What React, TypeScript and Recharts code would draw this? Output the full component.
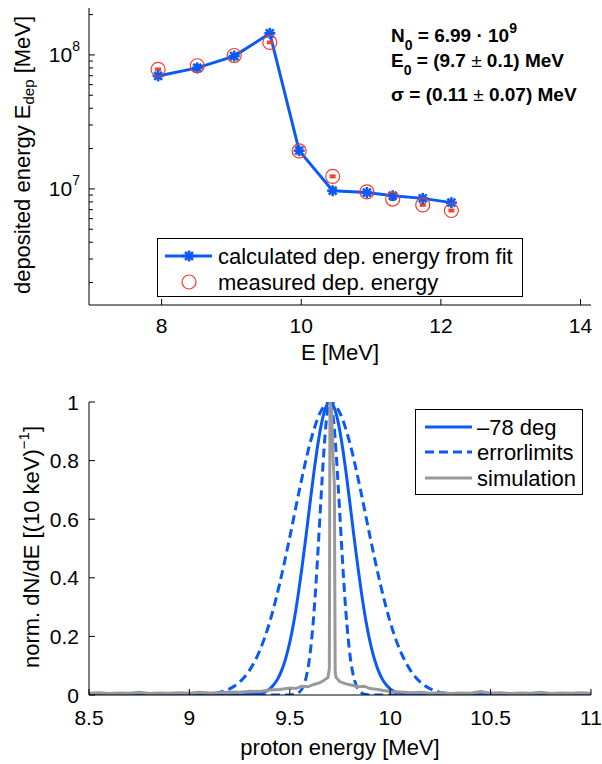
import React from "react";
import { ComposedChart, Line, XAxis, YAxis, ErrorBar, Legend } from "recharts";

const FONT = '"Liberation Sans", Arial, Helvetica, sans-serif';
const BLUE = "#0a5af8";
const RED = "#f03c2a";
const GREY = "#999999";

// top panel: deposited energy per detector layer (log y)
const layerE = [7.95, 8.51, 9.04, 9.55, 9.97, 10.45, 10.94, 11.31, 11.74, 12.15];
const fitDep = [6.97e7, 8.0e7, 9.8e7, 1.45e8, 1.93e7, 9.7e6, 9.4e6, 8.9e6, 8.5e6, 7.9e6];
const measDep = [7.8e7, 8.3e7, 9.9e7, 1.24e8, 1.92e7, 1.24e7, 9.5e6, 8.4e6, 7.6e6, 6.9e6];
const measErr = [1.2e6, 1.2e6, 1.5e6, 1.8e6, 3e5, 2e5, 1.5e5, 1.3e5, 1.2e5, 1.1e5];
const topXTicks = [8, 10, 12, 14];
const topYTicks = [
  2e6, 3e6, 4e6, 5e6, 6e6, 7e6, 8e6, 9e6, 1e7, 2e7, 3e7, 4e7, 5e7, 6e7, 7e7, 8e7, 9e7, 1e8, 2e8,
];

// bottom panel: reconstructed spectrum
const fitE = [8.5, 9.2, 9.3, 9.34, 9.37, 9.4, 9.42, 9.44, 9.46, 9.48, 9.5, 9.52, 9.54, 9.56, 9.58, 9.6, 9.62, 9.64, 9.66, 9.68, 9.7, 9.72, 9.74, 9.76, 9.78, 9.8, 9.82, 9.84, 9.86, 9.88, 9.9, 9.92, 9.94, 9.96, 9.98, 10.0, 10.03, 10.06, 10.1, 10.2, 11];
const fitN = [0, 0, 0.001, 0.004, 0.009, 0.021, 0.035, 0.055, 0.085, 0.126, 0.18, 0.249, 0.334, 0.432, 0.539, 0.651, 0.76, 0.857, 0.934, 0.983, 1, 0.983, 0.934, 0.857, 0.76, 0.651, 0.539, 0.432, 0.334, 0.249, 0.18, 0.126, 0.085, 0.055, 0.035, 0.021, 0.009, 0.004, 0.001, 0, 0];

const loE = [8.5, 9.0, 9.1, 9.15, 9.2, 9.25, 9.3, 9.35, 9.4, 9.45, 9.5, 9.55, 9.6, 9.65, 9.7, 9.75, 9.8, 9.85, 9.9, 9.95, 10.0, 10.05, 10.1, 10.15, 10.2, 10.25, 10.3, 10.4, 11];
const loN = [0, 0, 0.004, 0.009, 0.021, 0.044, 0.085, 0.151, 0.249, 0.381, 0.539, 0.707, 0.857, 0.962, 1, 0.962, 0.857, 0.707, 0.539, 0.381, 0.249, 0.151, 0.085, 0.044, 0.021, 0.009, 0.004, 0.0005, 0];

const hiE = [8.5, 9.5, 9.52, 9.54, 9.56, 9.58, 9.59, 9.6, 9.61, 9.62, 9.63, 9.64, 9.65, 9.66, 9.67, 9.68, 9.69, 9.7, 9.71, 9.72, 9.73, 9.74, 9.75, 9.76, 9.77, 9.78, 9.79, 9.8, 9.81, 9.82, 9.84, 9.86, 9.88, 9.9, 11];
const hiN = [0, 0, 0.0015, 0.006, 0.02, 0.056, 0.089, 0.135, 0.198, 0.278, 0.375, 0.487, 0.607, 0.726, 0.835, 0.923, 0.98, 1, 0.98, 0.923, 0.835, 0.726, 0.607, 0.487, 0.375, 0.278, 0.198, 0.135, 0.089, 0.056, 0.02, 0.006, 0.0015, 0, 0];

const simE = [8.5, 8.55, 8.6, 8.65, 8.7, 8.75, 8.8, 8.85, 8.9, 8.95, 9.0, 9.05, 9.1, 9.15, 9.2, 9.25, 9.3, 9.35, 9.4, 9.45, 9.5, 9.53, 9.56, 9.59, 9.62, 9.65, 9.67, 9.69, 9.697, 9.7, 9.708, 9.716, 9.722, 9.726, 9.73, 9.75, 9.78, 9.81, 9.84, 9.87, 9.9, 9.93, 9.96, 10.0, 10.05, 10.1, 10.15, 10.2, 10.25, 10.3, 10.35, 10.4, 10.45, 10.5, 10.55, 10.6, 10.65, 10.7, 10.75, 10.8, 10.85, 10.9, 10.95, 11.0];
const simN = [0.006, 0.008, 0.005, 0.007, 0.006, 0.009, 0.005, 0.007, 0.006, 0.008, 0.006, 0.009, 0.007, 0.008, 0.01, 0.009, 0.013, 0.012, 0.017, 0.019, 0.024, 0.022, 0.03, 0.028, 0.036, 0.042, 0.05, 0.06, 0.09, 1.0, 0.97, 0.8, 0.72, 0.08, 0.06, 0.045, 0.038, 0.033, 0.028, 0.03, 0.022, 0.02, 0.016, 0.012, 0.01, 0.008, 0.009, 0.006, 0.008, 0.005, 0.007, 0.006, 0.012, 0.006, 0.008, 0.005, 0.007, 0.006, 0.009, 0.005, 0.007, 0.006, 0.008, 0.006];

const botXTicks = [8.5, 9, 9.5, 10, 10.5, 11];
const botYTicks = [0, 0.2, 0.4, 0.6, 0.8, 1];

const topData = layerE.map((e, i) => ({ e, fit: fitDep[i], meas: measDep[i], err: measErr[i] }));
const pairs = (xs: number[], ys: number[]) => xs.map((e, i) => ({ e, n: ys[i] }));

const isDecade = (v: number) => Math.abs(Math.log10(v) - Math.round(Math.log10(v))) < 1e-9;

type Side = "left" | "right" | "top" | "bottom";

// MATLAB style ticks: pointing into the box, labels optional
function makeTick(side: Side, margin: number, label?: (v: number) => React.ReactNode, minor?: (v: number) => boolean) {
  return (props: any) => {
    const { x, y, payload } = props;
    const v = payload.value as number;
    const len = minor && minor(v) ? 4 : 6;
    let line;
    if (side === "left") line = <line x1={x + margin} x2={x + margin + len} y1={y} y2={y} />;
    else if (side === "right") line = <line x1={x - margin} x2={x - margin - len} y1={y} y2={y} />;
    else if (side === "top") line = <line x1={x} x2={x} y1={y + margin} y2={y + margin + len} />;
    else line = <line x1={x} x2={x} y1={y - margin} y2={y - margin - len} />;
    return (
      <g>
        <g stroke="#000" strokeWidth={1}>{line}</g>
        {label ? (
          <text
            x={x}
            y={y}
            textAnchor={side === "left" ? "end" : "middle"}
            dominantBaseline="central"
            fontSize={21}
            fontFamily={FONT}
            fill="#000"
          >
            {label(v)}
          </text>
        ) : null}
      </g>
    );
  };
}

const decadeLabel = (v: number) =>
  isDecade(v) ? (
    <>
      10
      <tspan dy={-9} fontSize={14}>{Math.round(Math.log10(v))}</tspan>
    </>
  ) : null;

function Star(props: any) {
  const { cx, cy } = props;
  if (cx == null || cy == null) return null;
  const r = 5.5;
  const d = r * 0.72;
  return (
    <g stroke={BLUE} strokeWidth={2.6} strokeLinecap="butt">
      <line x1={cx - r} x2={cx + r} y1={cy} y2={cy} />
      <line x1={cx} x2={cx} y1={cy - r} y2={cy + r} />
      <line x1={cx - d} x2={cx + d} y1={cy - d} y2={cy + d} />
      <line x1={cx - d} x2={cx + d} y1={cy + d} y2={cy - d} />
    </g>
  );
}

function Ring(props: any) {
  const { cx, cy } = props;
  if (cx == null || cy == null) return null;
  return <circle cx={cx} cy={cy} r={7} fill="none" stroke={RED} strokeWidth={1.2} />;
}

function TopLegend() {
  return (
    <svg width={367} height={60} style={{ display: "block" }} fontFamily={FONT}>
      <rect x={0.5} y={0.5} width={365} height={58} fill="#fff" stroke="#000" />
      <line x1={8} x2={55} y1={18} y2={18} stroke={BLUE} strokeWidth={3} />
      <Star cx={32} cy={18} />
      <text x={61} y={18} dominantBaseline="central" fontSize={22}>
        calculated dep. energy from fit
      </text>
      <circle cx={32} cy={44} r={7} fill="none" stroke={RED} strokeWidth={1.2} />
      <text x={61} y={44} dominantBaseline="central" fontSize={22}>
        measured dep. energy
      </text>
    </svg>
  );
}

function BottomLegend() {
  return (
    <svg width={169} height={87} style={{ display: "block" }} fontFamily={FONT}>
      <rect x={0.5} y={0.5} width={167} height={85} fill="#fff" stroke="#000" />
      <line x1={10} x2={57} y1={18} y2={18} stroke={BLUE} strokeWidth={3} />
      <text x={62} y={18} dominantBaseline="central" fontSize={22}>–78 deg</text>
      <line x1={10} x2={57} y1={43} y2={43} stroke={BLUE} strokeWidth={3} strokeDasharray="9 5" />
      <text x={62} y={43} dominantBaseline="central" fontSize={22}>errorlimits</text>
      <line x1={10} x2={57} y1={69} y2={69} stroke={GREY} strokeWidth={3} />
      <text x={62} y={69} dominantBaseline="central" fontSize={22}>simulation</text>
    </svg>
  );
}

function TopPanel() {
  const logMinor = (v: number) => !isDecade(v);
  return (
    <ComposedChart width={602} height={370} data={topData} margin={{ top: 8, right: 11, bottom: 0, left: 0 }}>
      <XAxis
        xAxisId="b"
        dataKey="e"
        type="number"
        domain={[6.96, 14.15]}
        ticks={topXTicks}
        interval={0}
        allowDataOverflow
        height={65}
        stroke="#000"
        tickSize={0}
        tickMargin={20}
        tick={makeTick("bottom", 20, (v) => String(v))}
      />
      <XAxis
        xAxisId="t"
        orientation="top"
        type="number"
        domain={[6.96, 14.15]}
        ticks={topXTicks}
        interval={0}
        allowDataOverflow
        height={0}
        stroke="#000"
        tickSize={0}
        tickMargin={0}
        tick={makeTick("top", 0)}
      />
      <YAxis
        yAxisId="l"
        type="number"
        scale="log"
        domain={[1.36e6, 2.24e8]}
        ticks={topYTicks}
        interval={0}
        allowDataOverflow
        width={89}
        stroke="#000"
        tickSize={0}
        tickMargin={9}
        tick={makeTick("left", 9, decadeLabel, logMinor)}
      />
      <YAxis
        yAxisId="r"
        orientation="right"
        type="number"
        scale="log"
        domain={[1.36e6, 2.24e8]}
        ticks={topYTicks}
        interval={0}
        allowDataOverflow
        width={0}
        stroke="#000"
        tickSize={0}
        tickMargin={0}
        tick={makeTick("right", 0, undefined, logMinor)}
      />
      <Line
        xAxisId="b"
        yAxisId="l"
        dataKey="fit"
        type="linear"
        stroke={BLUE}
        strokeWidth={3}
        dot={<Star />}
        activeDot={false}
        isAnimationActive={false}
      />
      <Line
        xAxisId="b"
        yAxisId="l"
        dataKey="meas"
        type="linear"
        stroke="none"
        dot={<Ring />}
        activeDot={false}
        isAnimationActive={false}
      >
        <ErrorBar dataKey="err" direction="y" width={3} stroke={RED} strokeWidth={2} />
      </Line>
      <Legend
        layout="horizontal"
        verticalAlign="middle"
        align="center"
        wrapperStyle={{ left: 157, top: 238, width: 367, height: 60 }}
        content={() => <TopLegend />}
      />
    </ComposedChart>
  );
}

function BottomPanel() {
  return (
    <ComposedChart width={602} height={384} margin={{ top: 22, right: 11, bottom: 0, left: 0 }}>
      <XAxis
        xAxisId="b"
        dataKey="e"
        type="number"
        domain={[8.5, 11]}
        ticks={botXTicks}
        interval={0}
        allowDataOverflow
        height={69}
        stroke="#000"
        tickSize={0}
        tickMargin={22}
        tick={makeTick("bottom", 22, (v) => String(v))}
      />
      <XAxis
        xAxisId="t"
        orientation="top"
        type="number"
        domain={[8.5, 11]}
        ticks={botXTicks}
        interval={0}
        height={0}
        stroke="#000"
        tickSize={0}
        tickMargin={0}
        tick={makeTick("top", 0)}
      />
      <YAxis
        yAxisId="l"
        type="number"
        domain={[0, 1]}
        ticks={botYTicks}
        interval={0}
        allowDataOverflow
        width={89}
        stroke="#000"
        tickSize={0}
        tickMargin={10}
        tick={makeTick("left", 10, (v) => String(v))}
      />
      <YAxis
        yAxisId="r"
        orientation="right"
        type="number"
        domain={[0, 1]}
        ticks={botYTicks}
        interval={0}
        width={0}
        stroke="#000"
        tickSize={0}
        tickMargin={0}
        tick={makeTick("right", 0)}
      />
      <Line xAxisId="b" yAxisId="l" data={pairs(fitE, fitN)} dataKey="n" type="monotone" stroke={BLUE} strokeWidth={3} dot={false} activeDot={false} isAnimationActive={false} />
      <Line xAxisId="b" yAxisId="l" data={pairs(loE, loN)} dataKey="n" type="monotone" stroke={BLUE} strokeWidth={3} strokeDasharray="9 5" dot={false} activeDot={false} isAnimationActive={false} />
      <Line xAxisId="b" yAxisId="l" data={pairs(hiE, hiN)} dataKey="n" type="monotone" stroke={BLUE} strokeWidth={3} strokeDasharray="9 5" dot={false} activeDot={false} isAnimationActive={false} />
      <Line xAxisId="b" yAxisId="l" data={pairs(simE, simN)} dataKey="n" type="linear" stroke={GREY} strokeWidth={3} dot={false} activeDot={false} isAnimationActive={false} />
      <Legend
        layout="horizontal"
        verticalAlign="middle"
        align="center"
        wrapperStyle={{ left: 415, top: 29, width: 169, height: 87 }}
        content={() => <BottomLegend />}
      />
    </ComposedChart>
  );
}

export default function App() {
  return (
    <div style={{ position: "absolute", left: 0, top: 0, width: 602, height: 764, background: "#fff", fontFamily: FONT }}>
      <div style={{ position: "absolute", left: 0, top: 0 }}>
        <TopPanel />
      </div>
      <div style={{ position: "absolute", left: 0, top: 380 }}>
        <BottomPanel />
      </div>
      <svg width={602} height={764} style={{ position: "absolute", left: 0, top: 0, pointerEvents: "none" }} fontFamily={FONT} fill="#000">
        <text transform="translate(22,155) rotate(-90)" textAnchor="middle" dominantBaseline="central" fontSize={22}>
          deposited energy E<tspan dy={6} fontSize={15}>dep</tspan>
          <tspan dy={-6}> [MeV]</tspan>
        </text>
        <text x={340} y={352} textAnchor="middle" dominantBaseline="central" fontSize={22}>
          E [MeV]
        </text>
        <text transform="translate(31,547) rotate(-90)" textAnchor="middle" dominantBaseline="central" fontSize={22}>
          norm. dN/dE [(10 keV)<tspan dy={-8} fontSize={15}>−1</tspan>
          <tspan dy={8}>]</tspan>
        </text>
        <text x={340} y={747} textAnchor="middle" dominantBaseline="central" fontSize={22}>
          proton energy [MeV]
        </text>
        <g fontWeight="bold" fontSize={19}>
          <text x={391} y={42}>
            N<tspan dy={8} fontSize={14}>0</tspan>
            <tspan dy={-8}> = 6.99 · 10</tspan>
            <tspan dy={-9} fontSize={14}>9</tspan>
          </text>
          <text x={391} y={67}>
            E<tspan dy={8} fontSize={14}>0</tspan>
            <tspan dy={-8}> = (9.7 </tspan>
            <tspan fontWeight="normal">±</tspan>
            <tspan> 0.1) MeV</tspan>
          </text>
          <text x={391} y={101}>
            σ = (0.11 <tspan fontWeight="normal">±</tspan>
            <tspan> 0.07) MeV</tspan>
          </text>
        </g>
      </svg>
    </div>
  );
}
